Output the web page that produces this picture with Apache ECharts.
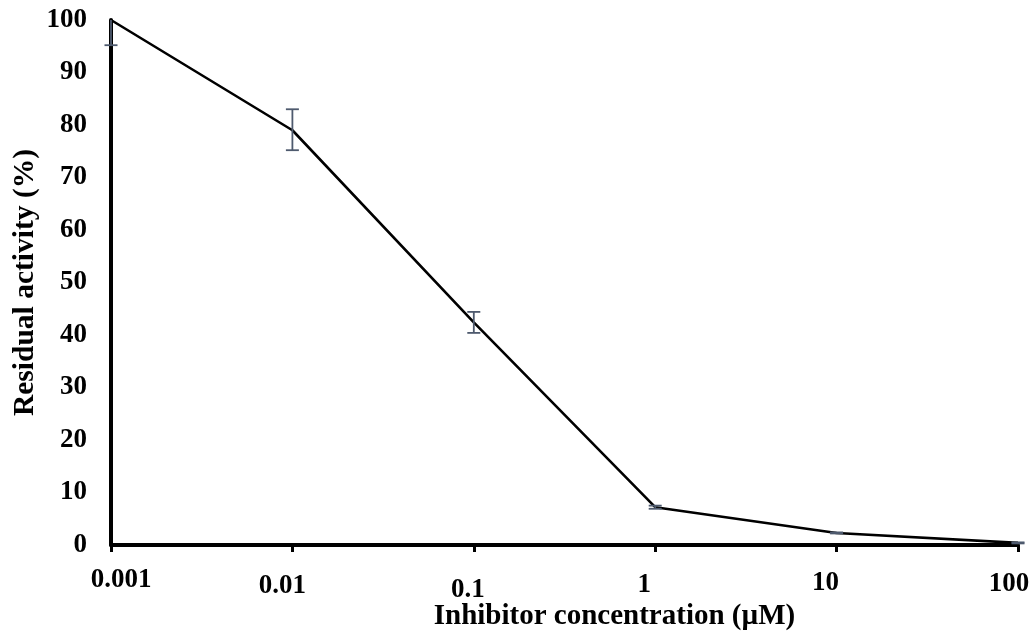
<!DOCTYPE html>
<html>
<head>
<meta charset="utf-8">
<script src="https://cdn.jsdelivr.net/npm/echarts@6/dist/echarts.min.js"></script>
<style>
  html, body { margin: 0; padding: 0; background: #fff; }
  #chart { width: 1034px; height: 635px; }
</style>
</head>
<body>
<div id="chart"></div>
<script>
// Inhibitor concentration (µM) and residual enzyme activity (%)
const concentrations = [0.001, 0.01, 0.1, 1, 10, 100];
const activity = [100, 79, 42.4, 7.2, 2.3, 0.4];
const errLow = [95.2, 75.2, 40.4, 6.9, 2.2, 0.3];
const errHigh = [104.8, 83, 44.4, 7.5, 2.4, 0.5];
const xTickLabels = ['0.001', '0.01', '0.1', '1', '10', '100'];

const FONT = '"Liberation Serif", "Times New Roman", serif';

// per-label nudges of the x tick labels: [top, right, bottom, left] padding
const labelPads = [
  [0, 0, 0, 20],
  [6, 20, 0, 0],
  [10, 12, 0, 0],
  [5, 22, 0, 0],
  [3, 22, 0, 0],
  [4, 18, 0, 0]
];

const chart = echarts.init(document.getElementById('chart'));

const lineData = concentrations.map((c, i) => [c, activity[i]]);
const errData = concentrations.map((c, i) => [c, errLow[i], errHigh[i]]);

const rich = {};
labelPads.forEach((p, i) => {
  rich['t' + i] = {
    fontFamily: FONT, fontWeight: 'bold', fontSize: 27, color: '#000', padding: p
  };
});

chart.setOption({
  animation: false,
  backgroundColor: '#ffffff',
  grid: {
    left: 111, right: 16, top: 20, bottom: 90,
    containLabel: false,
    outerBoundsMode: 'none'
  },
  xAxis: {
    type: 'log',
    logBase: 10,
    min: 0.001,
    max: 100,
    name: 'Inhibitor concentration (µM)',
    nameLocation: 'middle',
    nameGap: 57,
    nameMoveOverlap: false,
    nameTextStyle: {
      fontFamily: FONT, fontWeight: 'bold', fontSize: 29, color: '#000',
      padding: [0, 0, 0, 100]
    },
    axisLine: { lineStyle: { color: '#000', width: 4 } },
    axisTick: { show: true, length: 7, lineStyle: { color: '#000', width: 3 } },
    splitLine: { show: false },
    axisLabel: {
      margin: 22,
      fontFamily: FONT, fontWeight: 'bold', fontSize: 27, color: '#000',
      formatter: (v) => {
        const idx = concentrations.findIndex(c => Math.abs(Math.log10(c) - Math.log10(v)) < 1e-6);
        return idx >= 0 ? '{t' + idx + '|' + xTickLabels[idx] + '}' : '';
      },
      rich
    }
  },
  yAxis: {
    type: 'value',
    min: 0,
    max: 100,
    interval: 10,
    name: 'Residual activity (%)',
    nameLocation: 'middle',
    nameGap: 71,
    nameMoveOverlap: false,
    nameTextStyle: { fontFamily: FONT, fontWeight: 'bold', fontSize: 29.5, color: '#000' },
    axisLine: { show: true, lineStyle: { color: '#000', width: 4 } },
    axisTick: { show: false },
    splitLine: { show: false },
    axisLabel: { margin: 24, fontFamily: FONT, fontWeight: 'bold', fontSize: 27, color: '#000' }
  },
  series: [
    {
      type: 'line',
      data: lineData,
      symbol: 'none',
      lineStyle: { color: '#000', width: 2.6 },
      z: 3
    },
    {
      type: 'custom',
      data: errData,
      clip: false,
      z: 4,
      renderItem: (params, api) => {
        const x = api.value(0);
        const lo = api.coord([x, api.value(1)]);
        const hi = api.coord([x, api.value(2)]);
        const topY = params.coordSys.y;
        const half = 6.5;
        const style = { stroke: '#4e5a6e', lineWidth: 1.8, fill: null };
        // whiskers running past the top of the plot are cut at its edge, without a cap
        const hiClipped = hi[1] < topY;
        const hiY = hiClipped ? topY : hi[1];
        const children = [
          { type: 'line', shape: { x1: lo[0], y1: lo[1], x2: hi[0], y2: hiY }, style },
          { type: 'line', shape: { x1: lo[0] - half, y1: lo[1], x2: lo[0] + half, y2: lo[1] }, style }
        ];
        if (!hiClipped) {
          children.push({ type: 'line', shape: { x1: hi[0] - half, y1: hiY, x2: hi[0] + half, y2: hiY }, style });
        }
        return { type: 'group', children };
      }
    }
  ]
});
</script>
</body>
</html>
